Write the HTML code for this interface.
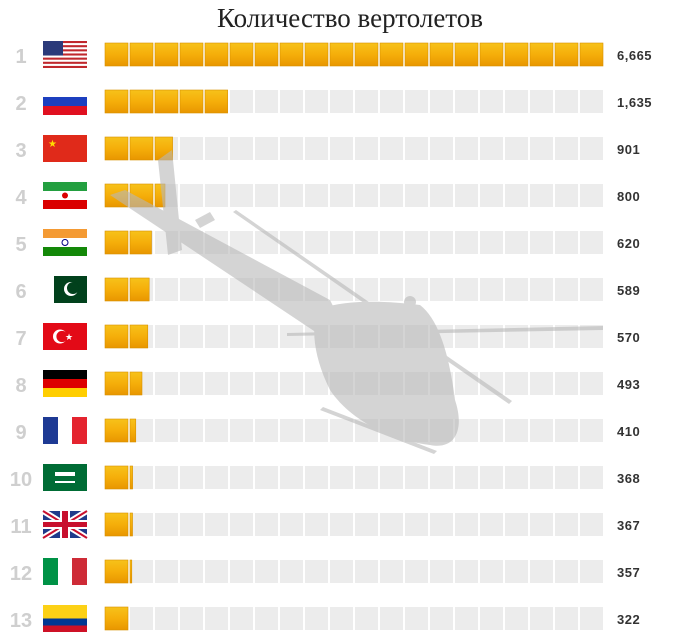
<!DOCTYPE html><html><head><meta charset="utf-8"><style>
body{margin:0;background:#fff;width:700px;height:634px;overflow:hidden;font-family:"Liberation Sans",sans-serif}
</style></head><body>
<svg width="700" height="634" xmlns="http://www.w3.org/2000/svg">
<defs>
<linearGradient id="g" x1="0" y1="0" x2="0" y2="1"><stop offset="0" stop-color="#f7c21a"/><stop offset="0.5" stop-color="#f5ae0a"/><stop offset="1" stop-color="#e89600"/></linearGradient>
</defs>
<text x="350" y="27" font-family="Liberation Serif, serif" font-size="27" text-anchor="middle" fill="#222">Количество вертолетов</text>
<g id="rows"></g>
<g fill="#b8b8b8" opacity="0.6">
<polygon points="158,160 172,150 182,250 168,255"/>
<polygon points="110,195 125,190 330,300 345,330 320,335"/>
<polygon points="195,220 210,212 215,220 200,228"/>
<path d="M318,310 C340,300 380,300 420,305 C440,320 450,360 455,400 C465,430 455,450 430,445 C390,440 350,420 330,390 C315,360 310,330 318,310Z"/>
<rect x="407" y="297" width="6" height="25"/>
<circle cx="410" cy="302" r="6"/>
<polygon points="233,212 236,210 512,401 509,404"/>
<polygon points="287,333 603,326 603,330 287,336"/>
<polygon points="320,410 323,407 437,451 434,454"/>
</g>
</svg>
<script>
var d=[["1",6665],["2",1635],["3",901],["4",800],["5",620],["6",589],["7",570],["8",493],["9",410],["10",368],["11",367],["12",357],["13",322]];
var flags=[
'<rect width="44" height="27" fill="#fff"/>'+[0,2,4,6,8,10,12].map(i=>'<rect y="'+(i*27/13)+'" width="44" height="2.08" fill="#c0282d"/>').join('')+'<rect width="20" height="14.5" fill="#2b3a7a"/>',
'<rect width="44" height="9" fill="#fff"/><rect y="9" width="44" height="9" fill="#1c3fbf"/><rect y="18" width="44" height="9" fill="#e01020"/>',
'<rect width="44" height="27" fill="#e02a1a"/><text x="5" y="12" fill="#ffde00" font-size="10">★</text>',
'<rect width="44" height="9" fill="#239f40"/><rect y="9" width="44" height="9" fill="#fff"/><rect y="18" width="44" height="9" fill="#da0000"/><circle cx="22" cy="13.5" r="3" fill="#da0000"/>',
'<rect width="44" height="9" fill="#f49a33"/><rect y="9" width="44" height="9" fill="#fff"/><rect y="18" width="44" height="9" fill="#138808"/><circle cx="22" cy="13.5" r="3" fill="none" stroke="#000080"/>',
'<rect width="44" height="27" fill="#fff"/><rect x="11" width="33" height="27" fill="#01411c"/><circle cx="28" cy="13" r="7" fill="#fff"/><circle cx="30" cy="12" r="6" fill="#01411c"/>',
'<rect width="44" height="27" fill="#e30a17"/><circle cx="17" cy="13.5" r="7" fill="#fff"/><circle cx="19" cy="13.5" r="5.6" fill="#e30a17"/><text x="22" y="17" fill="#fff" font-size="9">★</text>',
'<rect width="44" height="9" fill="#000"/><rect y="9" width="44" height="9" fill="#dd0000"/><rect y="18" width="44" height="9" fill="#ffce00"/>',
'<rect width="15" height="27" fill="#1e3a94"/><rect x="15" width="14" height="27" fill="#fff"/><rect x="29" width="15" height="27" fill="#e4242f"/>',
'<rect width="44" height="27" fill="#006c35"/><rect x="12" y="8" width="20" height="4" fill="#fff"/><rect x="12" y="17" width="20" height="2" fill="#fff"/>',
'<rect width="44" height="27" fill="#1f3a8a"/><path d="M0,0L44,27M44,0L0,27" stroke="#fff" stroke-width="6"/><path d="M0,0L44,27M44,0L0,27" stroke="#c8102e" stroke-width="2"/><rect x="17" width="10" height="27" fill="#fff"/><rect y="9" width="44" height="9" fill="#fff"/><rect x="19" width="6" height="27" fill="#c8102e"/><rect y="11" width="44" height="5" fill="#c8102e"/>',
'<rect width="15" height="27" fill="#009246"/><rect x="15" width="14" height="27" fill="#fff"/><rect x="29" width="15" height="27" fill="#ce2b37"/>',
'<rect width="44" height="13.5" fill="#fcd116"/><rect y="13.5" width="44" height="7" fill="#003893"/><rect y="20.5" width="44" height="6.5" fill="#ce1126"/>'];
var s='';
d.forEach(function(r,i){
 var cy=55+i*47, y=cy-12;
 s+='<text x="21" y="'+(cy+8)+'" font-size="20" font-weight="bold" fill="#cfcfcf" text-anchor="middle">'+r[0]+'</text>';
 s+='<g transform="translate(43,'+(cy-14)+')">'+flags[i]+'</g>';
 var v=r[1]/6665*20;
 for(var k=0;k<20;k++){
  var x=105+k*25;
  s+='<rect x="'+x+'" y="'+y+'" width="23" height="23" fill="#ececec"/>';
  var f=Math.max(0,Math.min(1,v-k));
  if(f>0) s+='<rect x="'+x+'" y="'+y+'" width="'+(Math.min(23,f*25))+'" height="23" fill="url(#g)" stroke="#d89000" stroke-width="0.6"/>';
 }
 s+='<text x="617" y="'+(cy+5)+'" font-size="13" font-weight="bold" fill="#333" letter-spacing="0.5">'+r[1].toLocaleString('en-US')+'</text>';
});
document.getElementById('rows').innerHTML=s;
</script>
</body></html>
